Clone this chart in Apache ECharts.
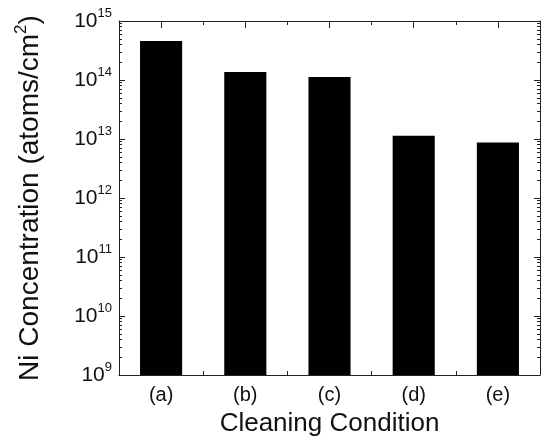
<!DOCTYPE html>
<html>
<head>
<meta charset="utf-8">
<script src="https://cdn.jsdelivr.net/npm/echarts@6/dist/echarts.min.js"></script>
<style>html,body{margin:0;padding:0;background:#fff;}#c{width:544px;height:445px;}</style>
</head>
<body>
<div id="c"></div>
<script>
const categories = ['(a)', '(b)', '(c)', '(d)', '(e)'];
const niConcentration = [4.6e14, 1.37e14, 1.12e14, 1.14e13, 8.7e12];
const yMin = 1e9;
const yMax = 1e15;
const xTitle = 'Cleaning Condition';
const yTitleMain = 'Ni Concentration (atoms/cm';
const yTitleSup = '2';

const FONT = 'Liberation Sans, Arial, Helvetica, sans-serif';
const INK = '#111';
const LINE = '#222';

function expLabel(v) {
  const e = Math.round(Math.log10(v));
  return '{b|10}{s|' + e + '}';
}

const chart = echarts.init(document.getElementById('c'), null, {renderer: 'canvas'});
const yAxisCommon = {
  type: 'log', logBase: 10, min: yMin, max: yMax, interval: 1,
  axisLine: {show: true, lineStyle: {color: LINE, width: 1}},
  axisTick: {show: true, inside: true, length: 6, lineStyle: {color: LINE}},
  minorTick: {show: true, splitNumber: 9, length: 3, lineStyle: {color: LINE}},
  splitLine: {show: false},
  minorSplitLine: {show: false}
};
chart.setOption({
  animation: false,
  backgroundColor: '#fff',
  grid: {left: 119, right: 4, top: 21, bottom: 70, containLabel: false},
  xAxis: [
    {
      type: 'category', position: 'bottom', data: categories,
      axisLine: {show: true, onZero: false, lineStyle: {color: LINE, width: 1}},
      axisTick: {show: true, inside: true, length: 4, interval: 0, lineStyle: {color: LINE}},
      axisLabel: {show: true, interval: 0, margin: 10, fontFamily: FONT, fontSize: 20, color: INK},
      name: xTitle, nameLocation: 'middle', nameGap: 36,
      nameTextStyle: {fontFamily: FONT, fontSize: 26, color: INK}
    },
    {
      type: 'category', position: 'top', data: categories,
      axisLine: {show: true, onZero: false, lineStyle: {color: LINE, width: 1}},
      axisTick: {show: true, inside: true, length: 7, alignWithLabel: true, interval: 0, lineStyle: {color: LINE}},
      axisLabel: {show: false}
    },
    {
      type: 'category', position: 'top', data: categories,
      axisLine: {show: false},
      axisTick: {show: true, inside: true, length: 4, interval: 0, lineStyle: {color: LINE}},
      axisLabel: {show: false}
    }
  ],
  yAxis: [
    Object.assign({}, yAxisCommon, {
      position: 'left',
      axisLabel: {
        show: true, margin: 7, formatter: expLabel,
        rich: {
          b: {fontFamily: FONT, fontSize: 21, color: INK, lineHeight: 28},
          s: {fontFamily: FONT, fontSize: 13, color: INK, lineHeight: 13, verticalAlign: 'top'}
        }
      },
      name: '{t|' + yTitleMain + '}{s|' + yTitleSup + '}{t|)}',
      nameLocation: 'middle', nameGap: 72, nameRotate: 90,
      nameTextStyle: {
        rich: {
          t: {fontFamily: FONT, fontSize: 28, color: INK, lineHeight: 34},
          s: {fontFamily: FONT, fontSize: 17, color: INK, lineHeight: 17, verticalAlign: 'top'}
        }
      }
    }),
    Object.assign({}, yAxisCommon, {
      position: 'right',
      axisLabel: {show: false}
    })
  ],
  series: [{
    type: 'bar', xAxisIndex: 0, yAxisIndex: 0,
    data: niConcentration,
    barWidth: '50%',
    itemStyle: {color: '#000'},
    z: 3
  }]
});
</script>
</body>
</html>
